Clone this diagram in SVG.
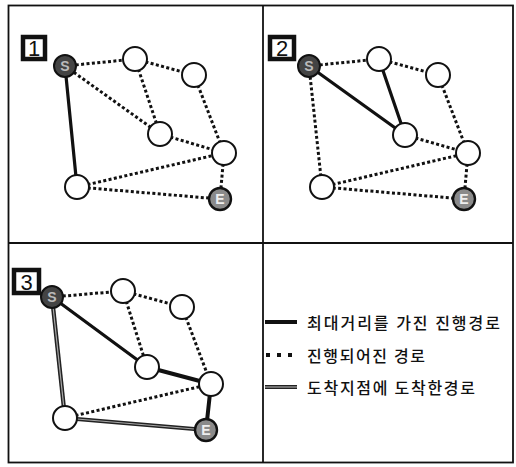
<svg xmlns="http://www.w3.org/2000/svg" width="516" height="467" viewBox="0 0 516 467">
<defs>
<style>
.frame{fill:none;stroke:#111;stroke-width:1.8}
.dot{fill:none;stroke:#111;stroke-width:3;stroke-dasharray:3 2.4}
.solid{fill:none;stroke:#111;stroke-width:3.2;stroke-linecap:round}
.dbl{fill:none;stroke:#222;stroke-width:4.2}
.dbl-in{fill:none;stroke:#a8a8a8;stroke-width:1.2}
.node{fill:#fff;stroke:#111;stroke-width:2}
.snode{fill:#444;stroke:#111;stroke-width:2}
.enode{fill:#8a8a8a;stroke:#111;stroke-width:2.4}
.se{font-family:"Liberation Sans",Arial,sans-serif;font-weight:bold;font-size:14px;text-anchor:middle;dominant-baseline:central}
.box{fill:#fff;stroke:#111;stroke-width:4.5}
.num{font-family:"Liberation Sans",Arial,sans-serif;font-size:22px;text-anchor:middle;dominant-baseline:central;fill:#111}
.leg{font-family:"Noto Sans CJK KR","Noto Sans",sans-serif;font-size:16px;font-weight:500;fill:#111;dominant-baseline:central}
</style>
</defs>
<rect class="frame" x="8.5" y="5.5" width="504.5" height="457"/>
<line class="frame" x1="263" y1="5.5" x2="263" y2="462.5"/>
<line class="frame" x1="8.5" y1="243" x2="513" y2="243"/>

<g id="connectors">
<!-- panel 1 -->
<line class="dot" x1="65" y1="66" x2="135" y2="59"/>
<line class="dot" x1="135" y1="59" x2="194" y2="75"/>
<line class="dot" x1="65" y1="66" x2="160" y2="134"/>
<line class="dot" x1="135" y1="59" x2="160" y2="134"/>
<line class="dot" x1="194" y1="75" x2="224" y2="153"/>
<line class="dot" x1="160" y1="134" x2="224" y2="153"/>
<line class="dot" x1="77" y1="187" x2="224" y2="153"/>
<line class="dot" x1="77" y1="187" x2="220" y2="199"/>
<line class="dot" x1="224" y1="153" x2="220" y2="199"/>
<line class="solid" x1="65" y1="66" x2="77" y2="187"/>
<!-- panel 2 -->
<line class="dot" x1="309" y1="66" x2="379" y2="59"/>
<line class="dot" x1="379" y1="59" x2="438" y2="75"/>
<line class="dot" x1="438" y1="75" x2="468" y2="153"/>
<line class="dot" x1="405" y1="135" x2="468" y2="153"/>
<line class="dot" x1="309" y1="66" x2="322" y2="187"/>
<line class="dot" x1="322" y1="187" x2="468" y2="153"/>
<line class="dot" x1="322" y1="187" x2="464" y2="199"/>
<line class="dot" x1="468" y1="153" x2="464" y2="199"/>
<line class="solid" x1="309" y1="66" x2="405" y2="135"/>
<line class="solid" x1="379" y1="59" x2="405" y2="135"/>
<!-- panel 3 -->
<line class="dot" x1="52" y1="297" x2="123" y2="291"/>
<line class="dot" x1="123" y1="291" x2="182" y2="307"/>
<line class="dot" x1="123" y1="291" x2="147" y2="367"/>
<line class="dot" x1="182" y1="307" x2="211" y2="384"/>
<line class="dot" x1="65" y1="418" x2="211" y2="384"/>
<line class="solid" x1="52" y1="297" x2="147" y2="367"/>
<line class="solid" x1="147" y1="367" x2="211" y2="384" style="stroke-width:4"/>
<line class="solid" x1="211" y1="384" x2="206" y2="430" style="stroke-width:4"/>
<line class="dbl" x1="52" y1="297" x2="65" y2="418"/>
<line class="dbl-in" x1="52" y1="297" x2="65" y2="418"/>
<line class="dbl" x1="65" y1="418" x2="206" y2="430"/>
<line class="dbl-in" x1="65" y1="418" x2="206" y2="430"/>
</g>

<g id="p1-A"><circle class="node" cx="135" cy="59" r="12"/></g>
<g id="p1-B"><circle class="node" cx="194" cy="75" r="12"/></g>
<g id="p1-C"><circle class="node" cx="160" cy="134" r="12"/></g>
<g id="p1-D"><circle class="node" cx="224" cy="153" r="12"/></g>
<g id="p1-F"><circle class="node" cx="77" cy="187" r="12"/></g>
<g id="p1-S"><circle class="snode" cx="65" cy="66" r="11"/><text class="se" x="65" y="66" fill="#bbb">S</text></g>
<g id="p1-E"><circle class="enode" cx="220" cy="199" r="11"/><text class="se" x="220" y="199" fill="#eee">E</text></g>
<g id="p1-label"><rect class="box" x="23" y="37" width="22" height="22"/><text class="num" x="34" y="48.5">1</text></g>

<g id="p2-A"><circle class="node" cx="379" cy="59" r="12"/></g>
<g id="p2-B"><circle class="node" cx="438" cy="75" r="12"/></g>
<g id="p2-C"><circle class="node" cx="405" cy="135" r="12"/></g>
<g id="p2-D"><circle class="node" cx="468" cy="153" r="12"/></g>
<g id="p2-F"><circle class="node" cx="322" cy="187" r="12"/></g>
<g id="p2-S"><circle class="snode" cx="309" cy="66" r="11"/><text class="se" x="309" y="66" fill="#bbb">S</text></g>
<g id="p2-E"><circle class="enode" cx="464" cy="199" r="11"/><text class="se" x="464" y="199" fill="#eee">E</text></g>
<g id="p2-label"><rect class="box" x="270" y="37" width="24" height="22"/><text class="num" x="282" y="48.5">2</text></g>

<g id="p3-A"><circle class="node" cx="123" cy="291" r="12"/></g>
<g id="p3-B"><circle class="node" cx="182" cy="307" r="12"/></g>
<g id="p3-C"><circle class="node" cx="147" cy="367" r="12"/></g>
<g id="p3-D"><circle class="node" cx="211" cy="384" r="12"/></g>
<g id="p3-F"><circle class="node" cx="65" cy="418" r="12"/></g>
<g id="p3-S"><circle class="snode" cx="52" cy="297" r="11"/><text class="se" x="52" y="297" fill="#bbb">S</text></g>
<g id="p3-E"><circle class="enode" cx="206" cy="430" r="11"/><text class="se" x="206" y="430" fill="#eee">E</text></g>
<g id="p3-label"><rect class="box" x="14" y="270" width="25" height="23"/><text class="num" x="26.5" y="282">3</text></g>

<g id="legend">
<line x1="265" y1="322" x2="297" y2="322" stroke="#111" stroke-width="4"/>
<text class="leg" x="307" y="322" textLength="193" lengthAdjust="spacing">최대거리를 가진 진행경로</text>
<line x1="266" y1="355" x2="293" y2="355" stroke="#111" stroke-width="4" stroke-dasharray="4 7"/>
<text class="leg" x="307" y="355" textLength="118" lengthAdjust="spacing">진행되어진 경로</text>
<line x1="265" y1="387" x2="297" y2="387" stroke="#222" stroke-width="4"/>
<line x1="265" y1="387" x2="297" y2="387" stroke="#a8a8a8" stroke-width="1.2"/>
<text class="leg" x="307" y="387" textLength="168" lengthAdjust="spacing">도착지점에 도착한경로</text>
</g>
</svg>
